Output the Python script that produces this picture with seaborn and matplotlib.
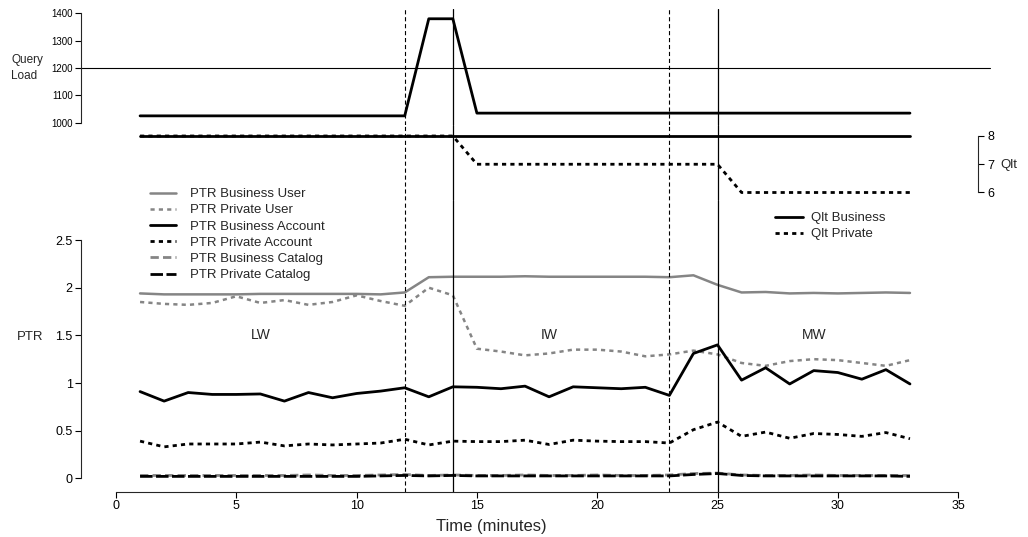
import numpy as np
import pandas as pd
import matplotlib
matplotlib.use("Agg")
import matplotlib.pyplot as plt
from matplotlib.lines import Line2D
import seaborn as sns

# ---------------- data ----------------
minutes = list(range(1, 34))

query_load = [1025] * 12 + [1380, 1380] + [1035] * 19

qlt_business = [8] * 33
qlt_private = [8] * 14 + [7] * 11 + [6] * 8

ptr_business_user = [1.94, 1.93, 1.93, 1.93, 1.93, 1.935, 1.935, 1.935, 1.935, 1.935, 1.93, 1.95,
                     2.11, 2.115, 2.115, 2.115, 2.12, 2.115, 2.115, 2.115, 2.115, 2.115, 2.11, 2.13,
                     2.03, 1.95, 1.955, 1.94, 1.945, 1.94, 1.945, 1.95, 1.945]
ptr_private_user = [1.85, 1.83, 1.82, 1.84, 1.91, 1.84, 1.87, 1.82, 1.85, 1.92, 1.86, 1.81,
                    2.00, 1.92, 1.36, 1.33, 1.29, 1.31, 1.35, 1.35, 1.33, 1.28, 1.30, 1.34,
                    1.30, 1.21, 1.18, 1.23, 1.25, 1.24, 1.21, 1.18, 1.24]
ptr_business_account = [0.91, 0.81, 0.90, 0.88, 0.88, 0.885, 0.81, 0.90, 0.845, 0.89, 0.915, 0.95,
                        0.855, 0.96, 0.955, 0.94, 0.967, 0.855, 0.96, 0.95, 0.94, 0.955, 0.87, 1.31,
                        1.40, 1.03, 1.16, 0.99, 1.13, 1.11, 1.04, 1.14, 0.99]
ptr_private_account = [0.39, 0.33, 0.36, 0.36, 0.36, 0.38, 0.34, 0.36, 0.35, 0.36, 0.37, 0.41,
                       0.35, 0.39, 0.385, 0.385, 0.40, 0.355, 0.40, 0.39, 0.385, 0.385, 0.37, 0.51,
                       0.59, 0.44, 0.485, 0.42, 0.47, 0.46, 0.44, 0.48, 0.415]
ptr_business_catalog = [0.03, 0.03, 0.03, 0.03, 0.03, 0.03, 0.03, 0.035, 0.03, 0.03, 0.035, 0.04,
                        0.03, 0.035, 0.03, 0.03, 0.035, 0.03, 0.03, 0.035, 0.03, 0.03, 0.035, 0.05,
                        0.055, 0.035, 0.03, 0.03, 0.035, 0.03, 0.03, 0.03, 0.03]
ptr_private_catalog = [0.02, 0.02, 0.02, 0.02, 0.02, 0.02, 0.02, 0.02, 0.02, 0.02, 0.025, 0.03,
                       0.025, 0.03, 0.025, 0.025, 0.025, 0.025, 0.025, 0.025, 0.025, 0.025, 0.025, 0.04,
                       0.05, 0.03, 0.025, 0.025, 0.025, 0.025, 0.025, 0.025, 0.02]

phase_dashed = [12, 23]
phase_solid = [14, 25]
phase_labels = ["LW", "IW", "MW"]
phase_label_x = [6, 18, 29]

# ---------------- style ----------------
sns.set_theme(style="white")
plt.rcParams["font.family"] = ["Liberation Sans", "DejaVu Sans"]
plt.rcParams["lines.scale_dashes"] = False
plt.rcParams["axes.linewidth"] = 0.8

GRAY = "#858585"
W, H = 1028, 537
fig = plt.figure(figsize=(W / 100, H / 100), dpi=100)


def px_axes(top, bottom, left=81, right=1022):
    return fig.add_axes([left / W, 1 - bottom / H, (right - left) / W, (bottom - top) / H])


X0, XS = 116.0, 24.06
xlim = ((81 - X0) / XS, (1022 - X0) / XS)

ax_top = px_axes(9, 125)
ax_mid = px_axes(125, 200)
ax_bot = px_axes(200, 492)

for ax in (ax_top, ax_mid, ax_bot):
    ax.set_xlim(*xlim)
    ax.patch.set_alpha(0)
    for s in ax.spines.values():
        s.set_visible(False)
    ax.set_xticks([])
    ax.set_yticks([])
    ax.set_xlabel("")
    ax.set_ylabel("")

SOLID = "-"
D_SHORT = (0, (3.0, 3.0))
D_CAT_B = (0, (6.0, 3.0))
D_CAT_P = (0, (9.0, 2.5))


def draw(ax, y, color, lw, ls):
    df = pd.DataFrame({"t": minutes, "v": y})
    sns.lineplot(data=df, x="t", y="v", ax=ax, color=color, linewidth=lw,
                 linestyle=ls, estimator=None, sort=False, legend=False)
    ax.set_xlabel("")
    ax.set_ylabel("")


# ---------------- top: query load ----------------
ax_top.set_ylim(1000 - (125 - 122.7) / 0.2735, 1400 + (13.3 - 9) / 0.2735)
draw(ax_top, query_load, "black", 2.0, SOLID)
ax_top.axhline(1200, xmin=0, xmax=(990 - 81) / (1022 - 81), color="black", lw=0.8)
ax_top.spines["left"].set_visible(True)
ax_top.spines["left"].set_bounds(1000, 1400)
ax_top.set_yticks([1000, 1100, 1200, 1300, 1400])
ax_top.tick_params(axis="y", left=True, direction="out", length=4, width=0.8,
                   labelsize=7, pad=2, colors="black")
ax_top.set_xticks([])
fig.text(11 / W, 1 - 60 / H, "Query", fontsize=8.5, va="center", ha="left")
fig.text(11 / W, 1 - 76 / H, "Load", fontsize=8.5, va="center", ha="left")

# ---------------- middle: Qlt ----------------
ax_mid.set_ylim(6 - (200 - 192.5) / 28.25, 8 + (136 - 125) / 28.25)
draw(ax_mid, qlt_business, "black", 2.0, SOLID)
draw(ax_mid, qlt_private, "black", 2.0, D_SHORT)
ax_mid.spines["right"].set_visible(True)
ax_mid.spines["right"].set_position(("data", (978 - X0) / XS))
ax_mid.spines["right"].set_bounds(6, 8)
ax_mid.yaxis.tick_right()
ax_mid.set_yticks([6, 7, 8])
ax_mid.tick_params(axis="y", right=True, left=False, direction="out", length=4, width=0.8,
                   labelsize=9, pad=3, colors="black")
ax_mid.set_xticks([])
fig.text(1000 / W, 1 - 165 / H, "Qlt", fontsize=9.5, va="center", ha="left")

# ---------------- bottom: PTR ----------------
ax_bot.set_ylim(-(492 - 478.3) / 95.3, (478.3 - 200) / 95.3)
draw(ax_bot, ptr_business_user, GRAY, 1.8, SOLID)
draw(ax_bot, ptr_private_user, GRAY, 1.8, D_SHORT)
draw(ax_bot, ptr_business_account, "black", 2.0, SOLID)
draw(ax_bot, ptr_private_account, "black", 2.0, D_SHORT)
draw(ax_bot, ptr_business_catalog, GRAY, 2.0, D_CAT_B)
draw(ax_bot, ptr_private_catalog, "black", 2.0, D_CAT_P)
ax_bot.spines["left"].set_visible(True)
ax_bot.spines["left"].set_bounds(0, 2.5)
ax_bot.spines["bottom"].set_visible(True)
ax_bot.spines["bottom"].set_bounds(0, 35)
ax_bot.set_yticks([0, 0.5, 1, 1.5, 2, 2.5])
ax_bot.set_yticklabels(["0", "0.5", "1", "1.5", "2", "2.5"])
ax_bot.set_xticks([0, 5, 10, 15, 20, 25, 30, 35])
ax_bot.tick_params(axis="both", left=True, bottom=True, direction="out", length=4, width=0.8,
                   labelsize=9, pad=2, colors="black")
for lx, lab in zip(phase_label_x, phase_labels):
    ax_bot.text(lx, 1.5, lab, fontsize=10, ha="center", va="center")
fig.text(17 / W, 1 - 337 / H, "PTR", fontsize=9.5, va="center", ha="left")
fig.text(491 / W, 1 - 526 / H, "Time (minutes)", fontsize=12, va="center", ha="center")

# ---------------- phase boundaries ----------------
for ax in (ax_top, ax_mid, ax_bot):
    for xv in phase_dashed:
        ax.axvline(xv, color="black", lw=0.8, ls=(0, (3, 2)))
    for xv in phase_solid:
        ax.axvline(xv, color="black", lw=0.9, ls="-")

# ---------------- legends ----------------
ptr_handles = [
    Line2D([], [], color=GRAY, lw=1.8, ls=SOLID),
    Line2D([], [], color=GRAY, lw=1.8, ls=D_SHORT),
    Line2D([], [], color="black", lw=2.0, ls=SOLID),
    Line2D([], [], color="black", lw=2.0, ls=D_SHORT),
    Line2D([], [], color=GRAY, lw=2.0, ls=D_CAT_B),
    Line2D([], [], color="black", lw=2.0, ls=D_CAT_P),
]
ptr_labels = ["PTR Business User", "PTR Private User", "PTR Business Account",
              "PTR Private Account", "PTR Business Catalog", "PTR Private Catalog"]
fig.legend(ptr_handles, ptr_labels, loc="upper left", bbox_to_anchor=(150 / W, 1 - 188 / H),
           frameon=False, fontsize=9.5, handlelength=2.0, handletextpad=1.0,
           labelspacing=0.3, borderpad=0, borderaxespad=0)

qlt_handles = [Line2D([], [], color="black", lw=2.0, ls=SOLID),
               Line2D([], [], color="black", lw=2.0, ls=D_SHORT)]
fig.legend(qlt_handles, ["Qlt Business", "Qlt Private"], loc="upper left",
           bbox_to_anchor=(775 / W, 1 - 212 / H), frameon=False, fontsize=9.5,
           handlelength=2.1, handletextpad=0.65, labelspacing=0.3, borderpad=0, borderaxespad=0)

fig.savefig("out.png", dpi=100)
